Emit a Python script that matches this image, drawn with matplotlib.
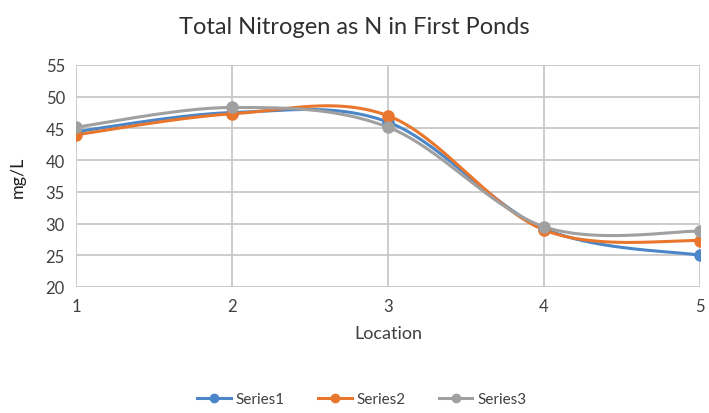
import numpy as np
import matplotlib
matplotlib.use('Agg')
import matplotlib.pyplot as plt

plt.rcParams['font.family'] = ['Lato', 'DejaVu Sans']

locations = [1, 2, 3, 4, 5]
series1 = [44.5, 47.5, 46.0, 29.2, 25.0]
series2 = [44.0, 47.3, 47.0, 29.0, 27.3]
series3 = [45.2, 48.3, 45.2, 29.5, 28.8]
names = ['Series1', 'Series2', 'Series3']
colors = ['#4A86C8', '#E8762D', '#A0A0A0']


def smooth(x, y, n=40):
    # Excel-style smoothed line: cubic Bezier with Catmull-Rom control points
    x = np.asarray(x, float)
    y = np.asarray(y, float)
    xs, ys = [], []
    t = np.linspace(0, 1, n)
    for i in range(len(x) - 1):
        p0 = np.array([x[max(i - 1, 0)], y[max(i - 1, 0)]])
        p1 = np.array([x[i], y[i]])
        p2 = np.array([x[i + 1], y[i + 1]])
        p3 = np.array([x[min(i + 2, len(x) - 1)], y[min(i + 2, len(x) - 1)]])
        c1 = p1 + (p2 - p0) / 6
        c2 = p2 - (p3 - p1) / 6
        pts = ((1 - t) ** 3)[:, None] * p1 + (3 * (1 - t) ** 2 * t)[:, None] * c1 \
            + (3 * (1 - t) * t ** 2)[:, None] * c2 + (t ** 3)[:, None] * p2
        xs.extend(pts[:, 0])
        ys.extend(pts[:, 1])
    return xs, ys


fig = plt.figure(figsize=(7.09, 4.14), dpi=100)
ax = fig.add_axes([76 / 709, 1 - 288 / 414, 624 / 709, 222 / 414])

for vals, name, c in zip([series1, series2, series3], names, colors):
    sx, sy = smooth(locations, vals)
    ax.plot(sx, sy, color=c, lw=2.2, zorder=3)
    ax.plot(locations, vals, 'o', color=c, ms=8, zorder=4)
    ax.plot([], [], '-o', color=c, lw=2.2, ms=6, label=name)

ax.set_xlim(1, 5)
ax.set_ylim(20, 55)
ax.set_xticks(locations)
ax.set_yticks(range(20, 56, 5))
ax.grid(True, color='#C8C8C8', lw=1.3)
ax.set_axisbelow(True)
for s in ax.spines.values():
    s.set_visible(False)
ax.tick_params(length=0, labelsize=12, colors='#404040', pad=8)
ax.set_xlabel('Location', fontsize=13, color='#404040', labelpad=8)
ax.set_ylabel('mg/L', fontsize=13, color='#202020', labelpad=14)
fig.suptitle('Total Nitrogen as N in First Ponds', fontsize=17, color='#303030', y=0.96)
fig.legend(loc='center', bbox_to_anchor=(0.51, 1 - 400 / 414), ncol=3, frameon=False,
           fontsize=11, handlelength=2.2, handletextpad=0.3, columnspacing=2.2,
           labelcolor='#404040')

fig.savefig('out.png', dpi=100)
